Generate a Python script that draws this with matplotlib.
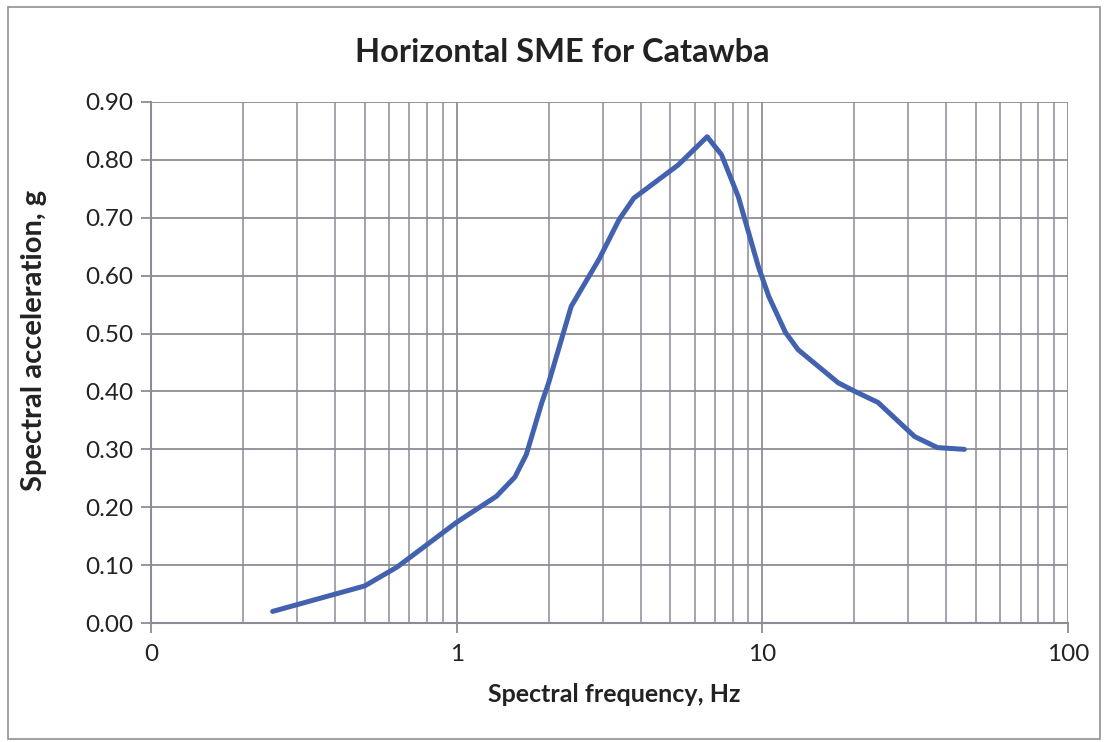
import numpy as np
import matplotlib.pyplot as plt
from matplotlib.patches import Rectangle
from matplotlib.ticker import FixedLocator, FixedFormatter, NullFormatter

# Spectral frequency (Hz) and spectral acceleration (g)
freq = [0.25, 0.5, 0.64, 1.0, 1.35, 1.55, 1.69, 1.9, 2.0, 2.37, 2.92, 3.4, 3.8,
        5.3, 6.6, 7.35, 8.35, 9.7, 10.5, 11.9, 13.1, 17.7, 20.1, 23.9, 31.5,
        37.4, 45.8]
accel = [0.02, 0.064, 0.097, 0.174, 0.219, 0.252, 0.291, 0.381, 0.415, 0.547,
         0.628, 0.697, 0.734, 0.791, 0.840, 0.809, 0.736, 0.616, 0.564, 0.502,
         0.472, 0.415, 0.400, 0.381, 0.322, 0.303, 0.300]

x_ticks = [0.1, 1, 10, 100]
x_labels = ["0", "1", "10", "100"]
y_ticks = np.arange(0, 0.91, 0.1)

plt.rcParams['font.family'] = ['Lato', 'DejaVu Sans']

fig = plt.figure(figsize=(11.12, 7.42), dpi=100)
ax = fig.add_axes([151 / 1112, 1 - 623 / 742, (1068 - 151) / 1112, (623 - 102) / 742])

grid_col = '#8c8c96'
ax.plot(freq, accel, color='#4262b0', linewidth=3.6, solid_capstyle='round', zorder=3)

ax.set_xscale('log')
ax.set_xlim(0.1, 100)
ax.set_ylim(0, 0.9)

ax.xaxis.set_major_locator(FixedLocator(x_ticks))
ax.xaxis.set_major_formatter(FixedFormatter(x_labels))
minors = [m * d for d in (0.1, 1, 10) for m in range(2, 10)]
ax.xaxis.set_minor_locator(FixedLocator(minors))
ax.xaxis.set_minor_formatter(NullFormatter())
ax.set_yticks(y_ticks)
ax.set_yticklabels([f"{v:.2f}" for v in y_ticks])

ax.grid(which='major', color=grid_col, linewidth=1.3)
ax.grid(which='minor', axis='x', color=grid_col, linewidth=1.1)
ax.tick_params(axis='both', which='major', labelsize=17.5, colors=grid_col,
               labelcolor='#222222', length=7, width=1.3)
ax.tick_params(axis='x', which='minor', length=0)
ax.tick_params(axis='x', pad=8)
ax.tick_params(axis='y', pad=6)

for side in ('top', 'right'):
    ax.spines[side].set_visible(False)
for side in ('left', 'bottom'):
    ax.spines[side].set_color(grid_col)
    ax.spines[side].set_linewidth(1.5)

fig.text(562 / 1112, 1 - 52 / 742, "Horizontal SME for Catawba", ha='center', va='center',
         fontsize=23.5, fontweight='bold', color='#222222')
fig.text(614 / 1112, 1 - 695 / 742, "Spectral frequency, Hz", ha='center', va='center',
         fontsize=18, fontweight='bold', color='#222222')
fig.text(34 / 1112, 1 - 340 / 742, "Spectral acceleration, g", ha='center', va='center',
         rotation=90, fontsize=21, fontweight='bold', color='#222222')

fig.patches.append(Rectangle((8 / 1112, 3 / 742), 1092 / 1112, 732 / 742,
                             transform=fig.transFigure, fill=False,
                             edgecolor='#909090', linewidth=1.2))

fig.savefig('out.png', dpi=100)
